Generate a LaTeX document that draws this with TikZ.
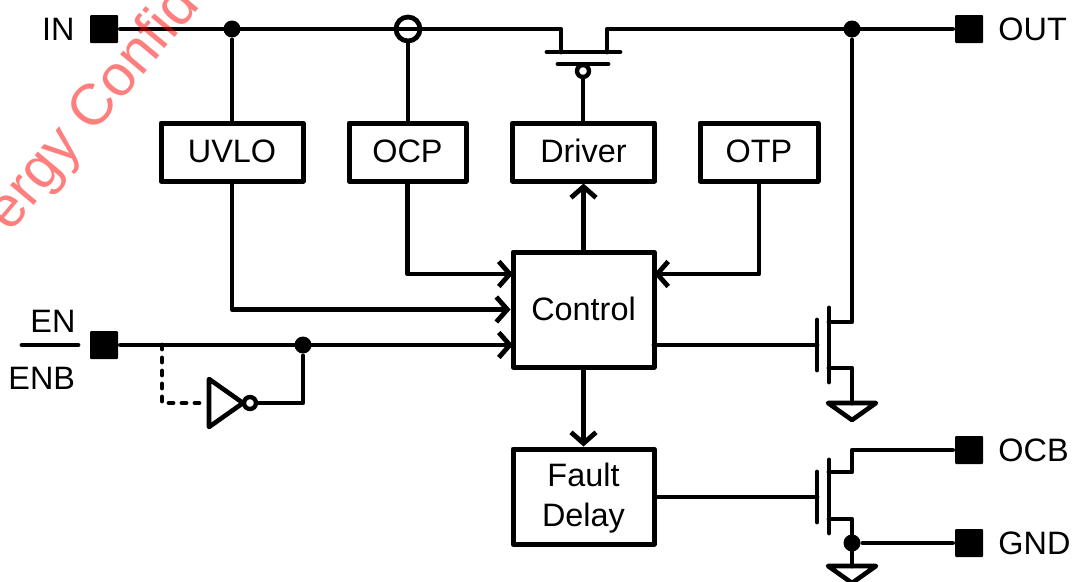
\documentclass[tikz,border=0pt]{standalone}
\usepackage{fontspec}
\setmainfont{Liberation Sans}
\usetikzlibrary{arrows.meta}
\begin{document}
\begin{tikzpicture}[%
    x=1pt, y=-1pt, line width=4.8pt, line cap=round, line join=round,
    font=\fontsize{32.4}{36}\selectfont,
    block/.style={draw, inner sep=0pt, text depth=0pt, line width=5pt},
    pad/.style={fill, rounded corners=1pt, minimum size=28pt, inner sep=0pt},
    dot/.style={circle, fill, minimum size=17pt, inner sep=0pt},
    bubble/.style={circle, draw, fill=white, line width=4.4pt, minimum size=12pt, inner sep=0pt},
    label/.style={inner sep=0pt, anchor=base west},
    wire/.style={-{Straight Barb[length=11pt,width=25pt,line width=4.8pt]}},
    gnd/.style={line width=4.6pt}]
    \useasboundingbox (0,0) rectangle (1073,581);
    \clip (0,0) rectangle (1073,581);
    \node [pad] (in) at (104,29) {};
    \node [pad] (out) at (969,29) {};
    \node [pad] (en) at (104,345) {};
    \node [pad] (ocb) at (969,450) {};
    \node [pad] (gnd) at (969,543) {};
    \node [label, anchor=base east] (inlabel) at (77,40) {IN};
    \node [label] (outlabel) at (996,40) {OUT};
    \node [label] (enlabel) at (28,332) {EN};
    \node [label] (enblabel) at (6,389) {ENB};
    \node [label] (ocblabel) at (996,461) {OCB};
    \node [label] (gndlabel) at (996,554) {GND};
    \node [block, minimum width=142pt, minimum height=58pt] (uvlo) at (232,152) {\raisebox{1.5pt}{UVLO}};
    \node [block, minimum width=117pt, minimum height=58pt] (ocp) at (407.5,152) {\raisebox{1.5pt}{OCP}};
    \node [block, minimum width=142pt, minimum height=58pt] (driver) at (583.5,152) {\raisebox{1.5pt}{Driver}};
    \node [block, minimum width=118pt, minimum height=58pt] (otp) at (759,152) {\raisebox{1.5pt}{OTP}};
    \node [block, minimum width=141pt, minimum height=115pt] (control) at (583.5,309.5) {\raisebox{1pt}{Control}};
    \node [block, text depth={}, minimum width=141pt, minimum height=95pt, align=center] (fault) at (583.5,496.5)
      {\rule{0pt}{26pt}Fault\\[4pt]Delay};
    \node [dot] (indot) at (232,29) {};
    \node [dot] (outdot) at (852,29) {};
    \node [dot] (endot) at (303,345) {};
    \node [dot] (gnddot) at (852,543) {};
    \node [circle, draw, minimum size=24pt, inner sep=0pt] (sense) at (408,29) {};
    \coordinate (pl) at (561,29);
    \coordinate (pr) at (607,29);
    \coordinate (ctrlocp) at (513,274);
    \coordinate (ctrlotp) at (654,274);
    \coordinate (ctrlen) at (513,345);
    \coordinate (ctrlgate) at (654,345);
    \coordinate (tap) at (162,345);
    \coordinate (n1g) at (817,345);
    \coordinate (n2g) at (817,497);
    \draw (in) -- (pl) -- (561,52);
    \draw (out) -- (pr) -- (607,52);
    \draw (547,52) -- (620,52);
    \draw (558,64) -- (608,64);
    \node [bubble] (pgate) at (583,71) {};
    \draw (pgate) -- (pgate |- driver.north);
    \draw (indot) -- (uvlo);
    \draw (sense) -- (sense |- ocp.north);
    \draw [wire] (uvlo) |- (control.west);
    \draw [wire] (ocp) |- (ctrlocp);
    \draw [wire] (otp) |- (ctrlotp);
    \draw [wire] (en) -- (ctrlen);
    \draw [wire] (control) -- (driver);
    \draw [wire] (control) -- (fault);
    \draw (22,345) -- (78,345);
    \draw [dash pattern=on 4pt off 9pt] (tap) |- (207,403);
    \draw [gnd] (209,379) -- (209,427) -- (243,403) -- cycle;
    \node [bubble] (invout) at (250,403) {};
    \draw (invout) -| (endot);
    \draw (ctrlgate) -- (n1g);
    \draw (817,320) -- (817,370);
    \draw (829,308) -- (829,382);
    \draw (outdot) -- (852,322) -- (829,322);
    \draw (829,368) -- (852,368) -- (852,403);
    \draw [gnd] (828,403) -- (876,403) -- (852,420) -- cycle;
    \draw (fault.east |- n2g) -- (n2g);
    \draw (817,472) -- (817,522);
    \draw (829,460) -- (829,533);
    \draw (829,472) -- (852,472) -- (852,450) -- (ocb);
    \draw (829,519) -- (852,519) -- (gnddot.center) -- (852,566);
    \draw (gnddot) -- (gnd);
    \draw [gnd] (828,566) -- (876,566) -- (852,583) -- cycle;
    \node [text=red, text opacity=0.5, rotate=50, anchor=base west, inner sep=0pt,
      font=\fontsize{58}{66}\selectfont] (mark) at (9,235) {ergy Confid};
\end{tikzpicture}
\end{document}
